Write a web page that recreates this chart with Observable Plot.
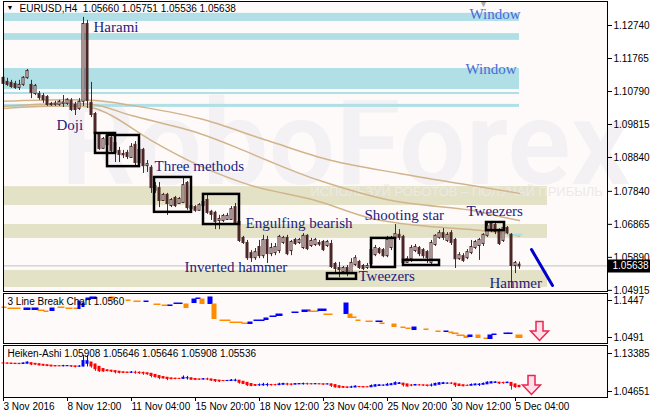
<!DOCTYPE html>
<html><head><meta charset="utf-8">
<script src="https://cdn.jsdelivr.net/npm/d3@7"></script>
<script src="https://cdn.jsdelivr.net/npm/@observablehq/plot@0.6"></script>
<style>
html,body{margin:0;padding:0;background:#fff;}
#chart{position:relative;width:650px;height:417px;overflow:hidden;background:#fff;}
#chart > div{position:absolute;left:0;}
</style></head><body><div id="chart"><div id="p1" style="top:0"></div><div id="p2" style="top:292px"></div><div id="p3" style="top:344px"></div></div>
<script>
// ---- EURUSD H4 candles (bar index 0 = 3 Nov 2016 20:00) ----
const open = [1.1118,1.1106,1.1103,1.1100,1.1091,1.1100,1.1120,1.1097,1.1073,1.1070,
1.1064,1.1061,1.1041,1.1041,1.1041,1.1044,1.1044,1.1050,1.1038,1.1029,
1.1050,1.1277,1.1044,1.1011,1.0949,1.0911,1.0946,1.0940,1.0925,1.0902,
1.0893,1.0896,1.0884,1.0920,1.0869,1.0905,1.0860,1.0852,1.0798,1.0792,
1.0757,1.0772,1.0742,1.0763,1.0748,1.0751,1.0807,1.0739,1.0736,1.0728,
1.0742,1.0757,1.0722,1.0719,1.0698,1.0698,1.0701,1.0701,1.0736,1.0692,
1.0645,1.0630,1.0600,1.0588,1.0618,1.0594,1.0639,1.0600,1.0603,1.0609,
1.0633,1.0645,1.0609,1.0639,1.0633,1.0618,1.0651,1.0624,1.0627,1.0630,
1.0633,1.0624,1.0627,1.0568,1.0556,1.0547,1.0556,1.0544,1.0568,1.0574,
1.0562,1.0559,1.0571,1.0597,1.0612,1.0609,1.0594,1.0618,1.0645,1.0654,
1.0648,1.0574,1.0585,1.0609,1.0615,1.0609,1.0603,1.0574,1.0627,1.0648,
1.0659,1.0639,1.0659,1.0639,1.0585,1.0591,1.0588,1.0603,1.0618,1.0624,
1.0630,1.0654,1.0686,1.0683,1.0668,1.0639,1.0674,1.0654,1.0565,1.05660];
const high = [1.1126,1.1118,1.1112,1.1109,1.1112,1.1123,1.1144,1.1112,1.1100,1.1079,
1.1073,1.1067,1.1047,1.1050,1.1053,1.1067,1.1058,1.1058,1.1047,1.1058,
1.1298,1.1289,1.1106,1.1017,1.0955,1.0943,1.0952,1.0949,1.0934,1.0914,
1.0905,1.0905,1.0925,1.0931,1.0914,1.0911,1.0875,1.0860,1.0810,1.0810,
1.0778,1.0778,1.0763,1.0769,1.0766,1.0822,1.0813,1.0745,1.0742,1.0748,
1.0763,1.0772,1.0728,1.0725,1.0713,1.0716,1.0719,1.0739,1.0748,1.0698,
1.0651,1.0639,1.0609,1.0615,1.0639,1.0654,1.0651,1.0630,1.0630,1.0654,
1.0651,1.0654,1.0639,1.0645,1.0645,1.0659,1.0656,1.0645,1.0645,1.0639,
1.0639,1.0639,1.0639,1.0574,1.0574,1.0562,1.0565,1.0585,1.0594,1.0580,
1.0568,1.0571,1.0615,1.0624,1.0618,1.0615,1.0651,1.0651,1.0686,1.0671,
1.0654,1.0591,1.0624,1.0627,1.0621,1.0615,1.0609,1.0639,1.0656,1.0668,
1.0674,1.0662,1.0668,1.0645,1.0603,1.0600,1.0612,1.0639,1.0639,1.0645,
1.0659,1.0689,1.0689,1.0689,1.0674,1.0680,1.0680,1.0659,1.0577,1.05751];
const low = [1.1094,1.1094,1.1088,1.1085,1.1082,1.1094,1.1115,1.1058,1.1067,1.1053,
1.1044,1.1035,1.1035,1.1035,1.1035,1.1032,1.1038,1.1020,1.1008,1.1023,
1.1035,1.1029,1.1002,1.0928,1.0905,1.0908,1.0917,1.0899,1.0869,1.0869,
1.0881,1.0878,1.0881,1.0860,1.0857,1.0837,1.0840,1.0778,1.0778,1.0736,
1.0754,1.0713,1.0736,1.0736,1.0745,1.0748,1.0728,1.0725,1.0722,1.0725,
1.0733,1.0716,1.0698,1.0671,1.0671,1.0692,1.0698,1.0698,1.0686,1.0633,
1.0627,1.0580,1.0574,1.0580,1.0585,1.0585,1.0571,1.0591,1.0594,1.0600,
1.0627,1.0594,1.0594,1.0624,1.0627,1.0612,1.0609,1.0618,1.0621,1.0621,
1.0606,1.0618,1.0556,1.0544,1.0529,1.0538,1.0532,1.0538,1.0562,1.0553,
1.0550,1.0553,1.0562,1.0591,1.0597,1.0588,1.0588,1.0609,1.0639,1.0639,
1.0568,1.0571,1.0574,1.0603,1.0591,1.0585,1.0571,1.0568,1.0621,1.0642,
1.0639,1.0633,1.0624,1.0556,1.0580,1.0574,1.0582,1.0597,1.0612,1.0580,
1.0621,1.0648,1.0662,1.0656,1.0624,1.0633,1.0656,1.0497,1.0541,1.05536];
const close = [1.1103,1.1100,1.1094,1.1091,1.1097,1.1118,1.1138,1.1076,1.1094,1.1061,
1.1055,1.1041,1.1040,1.1042,1.1047,1.1045,1.1053,1.1026,1.1026,1.1047,
1.1277,1.1053,1.1011,1.0955,1.0911,1.0937,1.0922,1.0905,1.0899,1.0893,
1.0892,1.0887,1.0914,1.0869,1.0905,1.0860,1.0863,1.0795,1.0787,1.0757,
1.0772,1.0748,1.0757,1.0742,1.0760,1.0801,1.0736,1.0733,1.0728,1.0742,
1.0751,1.0722,1.0716,1.0695,1.0701,1.0710,1.0710,1.0730,1.0692,1.0639,
1.0633,1.0588,1.0588,1.0603,1.0594,1.0639,1.0600,1.0615,1.0618,1.0648,
1.0645,1.0600,1.0633,1.0630,1.0639,1.0651,1.0615,1.0636,1.0639,1.0628,
1.0612,1.0633,1.0562,1.0556,1.0553,1.0556,1.0544,1.0571,1.0585,1.0559,
1.0556,1.0562,1.0609,1.0615,1.0603,1.0594,1.0639,1.0645,1.0656,1.0648,
1.0574,1.0582,1.0615,1.0618,1.0600,1.0594,1.0588,1.0630,1.0651,1.0659,
1.0648,1.0654,1.0633,1.0585,1.0594,1.0580,1.0603,1.0618,1.0633,1.0639,
1.0654,1.0680,1.0668,1.0665,1.0630,1.0674,1.0662,1.0565,1.0571,1.05638];

// moving averages (read at sample bars)
const maSlowIdx = [0,22,32,49,66,82,99,114,129];
const maSlowVal = [1.1050,1.1053,1.1038,1.0999,1.0934,1.0875,1.0837,1.0807,1.0778];
const maMidIdx = [0,22,32,49,60,66,79,97,117,124,129];
const maMidVal = [1.1035,1.1041,1.1008,1.0955,1.0905,1.0875,1.0816,1.0757,1.0728,1.0710,1.0698];
const maFastIdx = [0,22,27,37,49,62,78,92,104,117,126,129];
const maFastVal = [1.1029,1.1032,1.1008,1.0934,1.0860,1.0801,1.0757,1.0704,1.0683,1.0671,1.0659,1.0651];

// horizontal zones
const blueZoneTop = [1.1310,1.1250,1.1147,1.1076,1.1041];
const blueZoneBottom = [1.1286,1.1230,1.1085,1.1070,1.1032];
const beigeZoneTop = [1.0798,1.0686,1.0550];
const beigeZoneBottom = [1.0742,1.0645,1.0500];

// pattern boxes
const boxFrom = [23,26,37.75,50,81,92,100,120.75];
const boxTo = [28,34,47,59,88.25,98,109,125.25];
const boxTop = [1.0955,1.0949,1.0825,1.0775,1.0541,1.0645,1.0580,1.0692];
const boxBottom = [1.0896,1.0857,1.0722,1.0686,1.0524,1.0559,1.0565,1.0668];

// pattern labels
const labelText = ["Harami","Window","Window","Doji","Three methods","Engulfing bearish","Inverted hammer","Shooting star","Tweezers","Tweezers","Hammer"];
const labelIdx = [22.5,116.5,115.5,13.25,37.75,60.5,45.25,90.25,88.75,115.75,121.5];
const labelPrice = [1.1270,1.1308,1.1146,1.0979,1.0859,1.0691,1.0559,1.0714,1.0534,1.0725,1.0512];

// forecast trend line
const trendIdx = [132,137.25];
const trendPrice = [1.0612,1.0506];

// axes
const priceTicks = [1.12740,1.11765,1.10790,1.09815,1.08840,1.07840,1.06865,1.05890,1.04915];
const timeTickIdx = [0,16,32,48,64,80,96,112,128];
const timeTickLabels = ["3 Nov 2016","8 Nov 12:00","11 Nov 04:00","15 Nov 20:00","18 Nov 12:00","23 Nov 04:00","25 Nov 20:00","30 Nov 12:00","5 Dec 04:00"];
const lastPrice = 1.05638;

// 3 Line Break indicator segments
const lbFrom = [0,1.5,5.5,7.5,9,10.5,12,14,16,18,19,20,21,22,27,31,33,35.5,38,40,41.5,43,45.5,47.5,48.5,49.5,51.5,52.5,54.5,57,60,61.5,63,65.5,67,68.5,72.5,75,76.5,79,80.5,85.5,86.5,87.5,88.5,91,93.5,94.5,97.5,99.75,101,102.5,105.5,108.5,110.5,111.75,112.5,113.75,115.5,116.5,118.5,120.5,121.5,122.5,125.5,126.5,128.5];
const lbTo = [0.5,4,6.5,8.5,10,11,12.5,15,17,18.5,19,20,21.5,23,27.5,31.5,34,36,39,41,42,44.5,46,48,49,50,52,53,56.5,59.5,61,62,65,66,68,69.5,73.5,76.5,78.5,80.5,82,86,87,88,89,92,94.5,95,98,100.25,101.5,103,106,109,111,112.25,113.5,115,116,117,119,121,122,123,126,127,129.5];
const lbHigh = [1.1266,1.1240,1.1240,1.1240,1.1189,1.1163,1.1240,1.1266,1.1240,1.1240,1.1421,1.1369,1.1499,1.1525,1.1525,1.1447,1.1421,1.1421,1.1344,1.1318,1.1318,1.1369,1.1344,1.1473,1.1499,1.1473,1.1525,1.1344,1.0930,1.0878,1.0853,1.0878,1.0930,1.0982,1.1034,1.1085,1.1137,1.1189,1.1163,1.1214,1.1085,1.1369,1.1085,1.1008,1.0930,1.0904,1.0904,1.0853,1.0827,1.0749,1.0723,1.0749,1.0698,1.0646,1.0646,1.0620,1.0594,1.0543,1.0517,1.0543,1.0543,1.0465,1.0543,1.0568,1.0594,1.0594,1.0543];
const lbLow = [1.1240,1.1214,1.1189,1.1189,1.1163,1.1137,1.1163,1.1240,1.1214,1.1214,1.1214,1.1266,1.1447,1.1473,1.1447,1.1421,1.1395,1.1395,1.1318,1.1292,1.1292,1.1344,1.1240,1.1369,1.1473,1.1344,1.1344,1.0956,1.0904,1.0853,1.0827,1.0827,1.0904,1.0930,1.1008,1.1034,1.1111,1.1137,1.1137,1.1163,1.1059,1.1085,1.0982,1.0982,1.0904,1.0878,1.0878,1.0827,1.0749,1.0723,1.0698,1.0672,1.0672,1.0620,1.0620,1.0594,1.0568,1.0517,1.0465,1.0491,1.0465,1.0439,1.0439,1.0543,1.0568,1.0568,1.0465];
const lbUp = [0,0,1,1,0,0,1,0,0,0,1,1,1,1,0,0,0,1,0,0,1,1,0,1,1,0,1,0,0,0,0,1,1,1,1,1,1,1,0,1,0,1,0,0,0,0,1,0,0,0,0,1,0,0,1,0,0,0,0,1,0,0,1,1,1,1,0];

// ---------- styling ----------
const dark = "#4d2626";
const panelBg = "#fffafa";
const W = 650, ML = 3, MR = 43;
const xDomain = [0, 151];
const baseStyle = {background: "transparent", fontFamily: "'Liberation Sans', Arial, sans-serif", fontSize: "10px", color: "black", overflow: "visible"};
const fmt5 = d => d.toFixed(5);

const candles = open.map((o, i) => ({i, o, h: high[i], l: low[i], c: close[i]}));
const blueZones = blueZoneTop.map((t, k) => ({t, b: blueZoneBottom[k]}));
const beigeZones = beigeZoneTop.map((t, k) => ({t, b: beigeZoneBottom[k]}));
const boxes = boxFrom.map((f, k) => ({f, t: boxTo[k], hi: boxTop[k], lo: boxBottom[k]}));
const labels = labelText.map((s, k) => ({s, i: labelIdx[k], p: labelPrice[k]}));
const maLine = (idx, val) => idx.map((i, k) => ({i, v: val[k]}));
const trend = trendIdx.map((i, k) => ({i, v: trendPrice[k]}));

const arrowSymbol = {draw(ctx) {
  ctx.moveTo(-3.5, -9.5); ctx.lineTo(3.5, -9.5); ctx.lineTo(3.5, 0); ctx.lineTo(9, 0);
  ctx.lineTo(0, 9.5); ctx.lineTo(-9, 0); ctx.lineTo(-3.5, 0); ctx.closePath();
}};

// ---------- main price panel ----------
const main = Plot.plot({
  width: W, height: 293, marginLeft: ML, marginRight: MR, marginTop: 1, marginBottom: 2,
  style: baseStyle,
  x: {domain: xDomain, axis: null},
  y: {domain: [1.04881, 1.13449]},
  marks: [
    Plot.frame({fill: panelBg}),
    Plot.text(["RoboForex"], {frameAnchor: "top-left", dx: 57, dy: 145, textAnchor: "start", lineAnchor: "middle", fontSize: 118, fontWeight: 600, fontFamily: "Roboto, 'Liberation Sans', sans-serif", fill: "#f3f1f3", ariaLabel: "watermark"}),
    Plot.rect(blueZones, {x1: 0, x2: 129, y1: "b", y2: "t", fill: "#b0e0e6"}),
    Plot.rect(beigeZones, {x1: 0, x2: 136, y1: "b", y2: "t", fill: "#e3e1c6"}),
    Plot.text(["ИСПОЛЬЗУЙ РОБОТОВ – ПОЛУЧАЙ ПРИБЫЛЬ"], {frameAnchor: "top-left", dx: 307, dy: 190, textAnchor: "start", lineAnchor: "middle", fontSize: 13, fill: "#ece9e6", ariaLabel: "watermark2"}),
    Plot.line(maLine(maSlowIdx, maSlowVal), {x: "i", y: "v", stroke: "#d2b48c", curve: "catmull-rom"}),
    Plot.line(maLine(maMidIdx, maMidVal), {x: "i", y: "v", stroke: "#d2b48c", curve: "catmull-rom"}),
    Plot.line(maLine(maFastIdx, maFastVal), {x: "i", y: "v", stroke: "#d2b48c", curve: "catmull-rom"}),
    Plot.ruleY([lastPrice], {stroke: "#c0c0c0"}),
    Plot.line([{i: 126, v: 1.0656}, {i: 129.5, v: 1.0656}], {x: "i", y: "v", stroke: "#9ee6e6", strokeWidth: 2}),
    Plot.ruleX(candles, {x: "i", y1: "l", y2: "h", stroke: dark}),
    Plot.rect(candles, {x1: d => d.i - 0.25, x2: d => d.i + 0.25, y1: d => Math.min(d.o, d.c), y2: d => Math.max(d.o, d.c), insetTop: -0.5, insetBottom: -0.5, fill: d => d.c >= d.o ? "white" : dark, stroke: dark}),
    Plot.rect(boxes, {x1: "f", x2: "t", y1: "lo", y2: "hi", fill: "none", stroke: "black", strokeWidth: 2.5}),
    Plot.text(labels, {x: "i", y: "p", text: "s", textAnchor: "start", lineAnchor: "middle", fontFamily: "'Liberation Serif', 'Times New Roman', serif", fontSize: 15, fill: d => d.s === "Window" ? "#4a6ad8" : "#1c1c80"}),
    Plot.line(trend, {x: "i", y: "v", stroke: "#0000cd", strokeWidth: 3}),
    Plot.text([120], {x: d => d, frameAnchor: "top", text: () => "▼", lineAnchor: "top", dy: -1, fill: "#a8a8a8", fontSize: 9}),
    Plot.text(["EURUSD,H4  1.05660 1.05751 1.05536 1.05638"], {frameAnchor: "top-left", dx: 16, dy: 3, textAnchor: "start", lineAnchor: "top", fontSize: 10, fill: "black"}),
    Plot.text(["▼"], {frameAnchor: "top-left", dx: 3, dy: 4, textAnchor: "start", lineAnchor: "top", fontSize: 7, fill: "black"}),
    Plot.frame({stroke: "black"}),
    Plot.axisY(priceTicks, {anchor: "right", tickSize: 4, tickPadding: 2, tickFormat: fmt5, label: null}),
    Plot.ruleY([lastPrice], {x1: 151, x2: 162, stroke: "black", strokeWidth: 13}),
    Plot.text([lastPrice], {y: d => d, x: 151, text: fmt5, textAnchor: "start", dx: 5, fill: "white", fontSize: 10})
  ]
});
d3.select(main).selectAll('g[aria-label="watermark"] text').attr("textLength", 532).attr("lengthAdjust", "spacingAndGlyphs");
d3.select(main).selectAll('g[aria-label="watermark2"] text').attr("textLength", 282).attr("lengthAdjust", "spacingAndGlyphs");
document.getElementById("p1").appendChild(main);

// ---------- 3 Line Break panel ----------
const lb = lbFrom.map((f, k) => ({f, t: lbTo[k], hi: lbHigh[k], lo: lbLow[k], up: lbUp[k]}));
const lbPlot = Plot.plot({
  width: W, height: 53, marginLeft: ML, marginRight: MR, marginTop: 1, marginBottom: 2,
  style: baseStyle,
  x: {domain: xDomain, axis: null},
  y: {domain: [1.0336, 1.1628]},
  marks: [
    Plot.frame({fill: panelBg}),
    Plot.rect(lb, {x1: d => d.f - 0.375, x2: d => d.t + 0.375, y1: "lo", y2: "hi", insetTop: -0.5, fill: d => d.up ? "#0000ff" : "#ff8c00"}),
    Plot.text(["3 Line Break Chart 1.0560"], {frameAnchor: "top-left", dx: 4, dy: 4, textAnchor: "start", lineAnchor: "top", fontSize: 10, fill: "black"}),
    Plot.dot([{i: 134, v: 1.0659}], {x: "i", y: "v", symbol: arrowSymbol, r: 9, fill: "#ffe0ea", stroke: "#e8264f", strokeWidth: 1.5}),
    Plot.frame({stroke: "black"}),
    Plot.axisY([1.1447, 1.0491], {anchor: "right", tickSize: 4, tickPadding: 2, tickFormat: d => d.toFixed(4), label: null})
  ]
});
document.getElementById("p2").appendChild(lbPlot);

// ---------- Heiken-Ashi panel (derived from the candles above) ----------
const ha = [];
candles.forEach((d, i) => {
  const c = (d.o + d.h + d.l + d.c) / 4;
  const o = i ? (ha[i - 1].o + ha[i - 1].c) / 2 : (d.o + d.c) / 2;
  ha.push({i, o, c, h: Math.max(d.h, o, c), l: Math.min(d.l, o, c)});
});
const haPlot = Plot.plot({
  width: W, height: 73, marginLeft: ML, marginRight: MR, marginTop: 1, marginBottom: 20,
  style: baseStyle,
  x: {domain: xDomain},
  y: {domain: [1.0327, 1.15224]},
  marks: [
    Plot.frame({fill: panelBg}),
    Plot.ruleX(ha, {x: "i", y1: "l", y2: "h", stroke: d => d.c >= d.o ? "#0000ff" : "#ff0000"}),
    Plot.rect(ha, {x1: d => d.i - 0.375, x2: d => d.i + 0.375, y1: d => Math.min(d.o, d.c), y2: d => Math.max(d.o, d.c), insetTop: -0.5, insetBottom: -0.5, fill: d => d.c >= d.o ? "#0000ff" : "#ff0000"}),
    Plot.text(["Heiken-Ashi 1.05908 1.05646 1.05646 1.05908 1.05536"], {frameAnchor: "top-left", dx: 4, dy: 4, textAnchor: "start", lineAnchor: "top", fontSize: 10, fill: "black"}),
    Plot.dot([{i: 132, v: 1.0614}], {x: "i", y: "v", symbol: arrowSymbol, r: 9, fill: "#ffe0ea", stroke: "#e8264f", strokeWidth: 1.5}),
    Plot.frame({stroke: "black"}),
    Plot.axisY([1.13385, 1.04651], {anchor: "right", tickSize: 4, tickPadding: 2, tickFormat: fmt5, label: null}),
    Plot.axisX(timeTickIdx, {anchor: "bottom", tickSize: 4, tickPadding: 1, textAnchor: "start", dx: 0, tickFormat: d => timeTickLabels[timeTickIdx.indexOf(d)], label: null})
  ]
});
document.getElementById("p3").appendChild(haPlot);
</script>
</body></html>
